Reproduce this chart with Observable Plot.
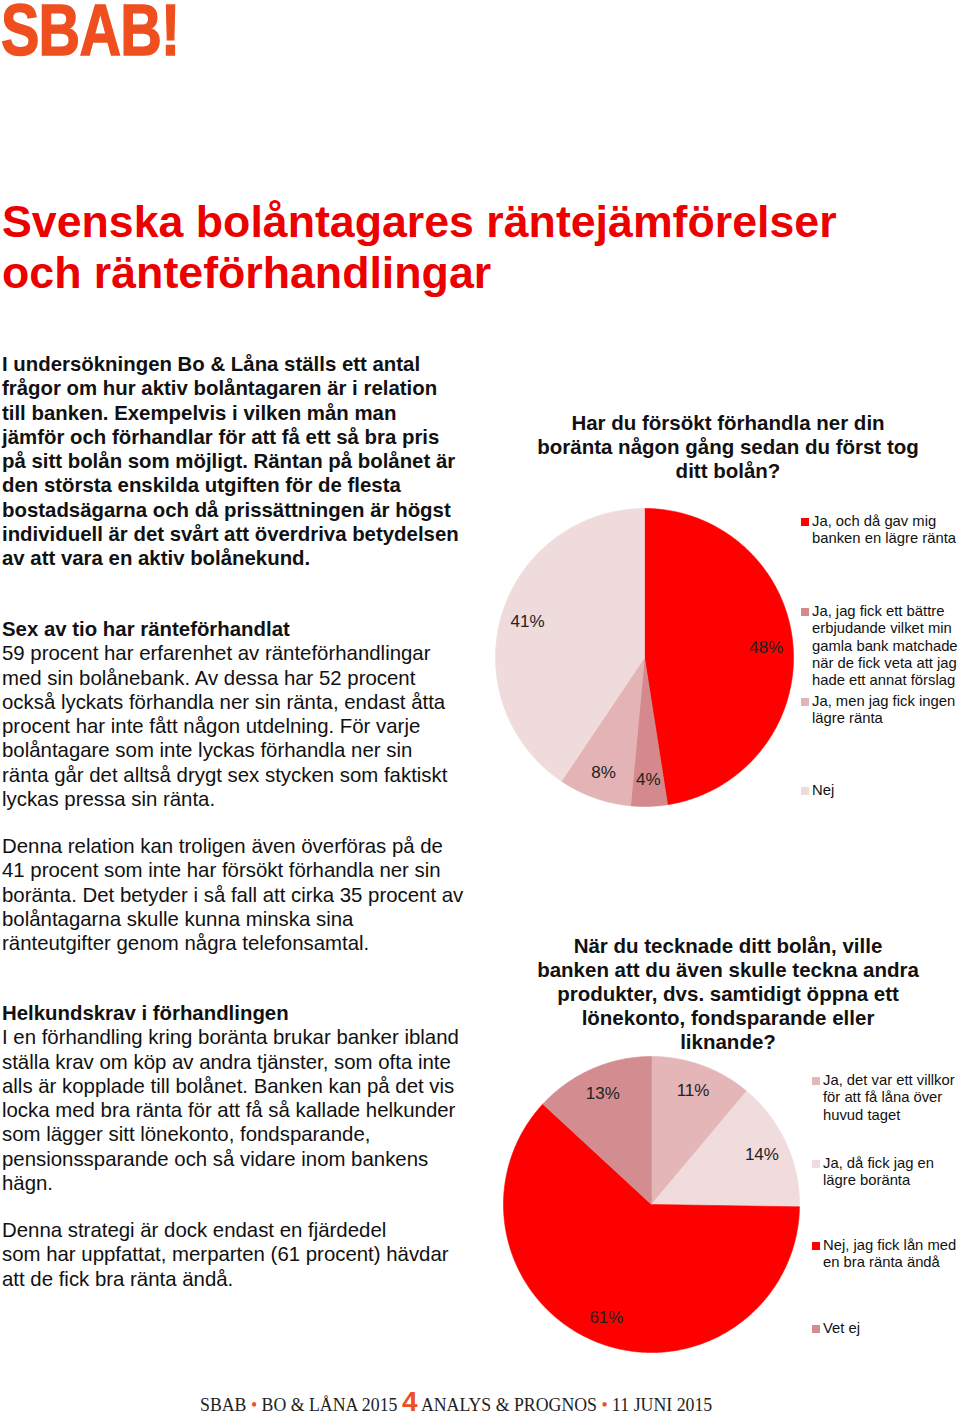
<!DOCTYPE html>
<html>
<head>
<meta charset="utf-8">
<script src="https://cdn.jsdelivr.net/npm/d3@7"></script>
<script src="https://cdn.jsdelivr.net/npm/@observablehq/plot@0.6"></script>
<style>
  html, body { margin: 0; padding: 0; background: #fff; }
  body { width: 960px; height: 1415px; position: relative; overflow: hidden;
         font-family: "Liberation Sans", Arial, Helvetica, sans-serif; color: #111; }
  .abs { position: absolute; }
  .logo { left: 1px; top: 0px; font-size: 72px; line-height: 60px; font-weight: bold; color: #EF4F1F;
          transform: scaleX(0.8); transform-origin: left top; letter-spacing: -1px;
          -webkit-text-stroke: 1.5px #EF4F1F; }
  .title { left: 2px; top: 196px; font-size: 44.7px; font-weight: bold; color: #EC0000; line-height: 51px; white-space: nowrap; }
  .body { left: 2px; font-size: 20.4px; line-height: 24.3px; white-space: nowrap; }
  .b { font-weight: bold; }
  .ctitle { font-size: 20.5px; line-height: 24px; font-weight: bold; text-align: center; width: 440px; white-space: nowrap; }
  .leg { font-size: 14.8px; line-height: 17.3px; white-space: nowrap; color: #111; }
  .leg .sw { position: absolute; left: -11px; top: 5px; width: 8px; height: 8px; }
  .footer { left: 200px; top: 1395px; font-family: "Liberation Serif", "DejaVu Serif", serif; font-size: 17.8px; line-height: 20px; white-space: nowrap; color: #222; }
  .footer .dot { color: #EF4F1F; }
  .footer .num { color: #EF4F1F; font-family: "Liberation Sans", Arial, sans-serif; font-weight: bold; font-size: 28px; line-height: 0; }
</style>
</head>
<body>
<script>
// ---------- DATA ----------
const pie1Title = ["Har du försökt förhandla ner din", "boränta någon gång sedan du först tog", "ditt bolån?"];
const pie1Labels = [
  ["Ja, och då gav mig", "banken en lägre ränta"],
  ["Ja, jag fick ett bättre", "erbjudande vilket min", "gamla bank matchade", "när de fick veta att jag", "hade ett annat förslag"],
  ["Ja, men jag fick ingen", "lägre ränta"],
  ["Nej"]
];
const pie1Values = [48, 4, 8, 41];
const pie1Colors = ["#FF0000", "#D4898D", "#E4B3B5", "#F0DBDC"];

const pie2Title = ["När du tecknade ditt bolån, ville", "banken att du även skulle teckna andra", "produkter, dvs. samtidigt öppna ett", "lönekonto, fondsparande eller", "liknande?"];
const pie2Labels = [
  ["Ja, det var ett villkor", "för att få låna över", "huvud taget"],
  ["Ja, då fick jag en", "lägre boränta"],
  ["Nej, jag fick lån med", "en bra ränta ändå"],
  ["Vet ej"]
];
const pie2Values = [11, 14, 61, 13];
const pie2Colors = ["#E5B6B8", "#F0DCDD", "#FF0000", "#D38D90"];

// ---------- TEXT ----------
const add = (html, cls, style) => {
  const d = document.createElement("div");
  d.className = "abs " + cls;
  Object.assign(d.style, style || {});
  d.innerHTML = html;
  document.body.appendChild(d);
  return d;
};
add("SBAB!", "logo");
add("Svenska bolåntagares räntejämförelser<br>och ränteförhandlingar", "title");
add(["I undersökningen Bo &amp; Låna ställs ett antal",
  "frågor om hur aktiv bolåntagaren är i relation",
  "till banken. Exempelvis i vilken mån man",
  "jämför och förhandlar för att få ett så bra pris",
  "på sitt bolån som möjligt. Räntan på bolånet är",
  "den största enskilda utgiften för de flesta",
  "bostadsägarna och då prissättningen är högst",
  "individuell är det svårt att överdriva betydelsen",
  "av att vara en aktiv bolånekund."].join("<br>"), "body b", {top: "352px"});
add(["<span class='b'>Sex av tio har ränteförhandlat</span>",
  "59 procent har erfarenhet av ränteförhandlingar",
  "med sin bolånebank. Av dessa har 52 procent",
  "också lyckats förhandla ner sin ränta, endast åtta",
  "procent har inte fått någon utdelning. För varje",
  "bolåntagare som inte lyckas förhandla ner sin",
  "ränta går det alltså drygt sex stycken som faktiskt",
  "lyckas pressa sin ränta."].join("<br>"), "body", {top: "617px"});
add(["Denna relation kan troligen även överföras på de",
  "41 procent som inte har försökt förhandla ner sin",
  "boränta. Det betyder i så fall att cirka 35 procent av",
  "bolåntagarna skulle kunna minska sina",
  "ränteutgifter genom några telefonsamtal."].join("<br>"), "body", {top: "834px"});
add(["<span class='b'>Helkundskrav i förhandlingen</span>",
  "I en förhandling kring boränta brukar banker ibland",
  "ställa krav om köp av andra tjänster, som ofta inte",
  "alls är kopplade till bolånet. Banken kan på det vis",
  "locka med bra ränta för att få så kallade helkunder",
  "som lägger sitt lönekonto, fondsparande,",
  "pensionssparande och så vidare inom bankens",
  "hägn."].join("<br>"), "body", {top: "1001px"});
add(["Denna strategi är dock endast en fjärdedel",
  "som har uppfattat, merparten (61 procent) hävdar",
  "att de fick bra ränta ändå."].join("<br>"), "body", {top: "1218px"});

add(pie1Title.join("<br>"), "ctitle", {left: "508px", top: "411px"});
add(pie2Title.join("<br>"), "ctitle", {left: "508px", top: "934px"});

add("SBAB <span class='dot'>•</span> BO &amp; LÅNA 2015 <span class='num'>4</span> ANALYS &amp; PROGNOS <span class='dot'>•</span> 11 JUNI 2015", "footer");

// ---------- LEGENDS ----------
function legend(labels, colors, left, tops) {
  labels.forEach((lines, i) => {
    const d = add(lines.join("<br>"), "leg", {left: left + "px", top: tops[i] + "px"});
    const s = document.createElement("div");
    s.className = "sw";
    s.style.background = colors[i];
    d.appendChild(s);
  });
}
legend(pie1Labels, pie1Colors, 812, [513, 603, 693, 782]);
legend(pie2Labels, pie2Colors, 823, [1072, 1155, 1237, 1320]);

// ---------- PIES ----------
function pieChart(values, colors, R, cx, cy) {
  const keys = values.map((v, i) => "s" + i);
  const arcs = d3.pie().sort(null).value(d => d)(values);
  const pts = arcs.flatMap((a, i) => {
    const n = Math.max(2, Math.ceil((a.endAngle - a.startAngle) / 0.01));
    const p = [{k: keys[i], x: 0, y: 0}];
    for (let j = 0; j <= n; j++) {
      const t = a.startAngle + (a.endAngle - a.startAngle) * j / n;
      p.push({k: keys[i], x: Math.sin(t), y: Math.cos(t)});
    }
    p.push({k: keys[i], x: 0, y: 0});
    return p;
  });
  const mid = a => (a.startAngle + a.endAngle) / 2;
  const lr = 0.82;
  const chart = Plot.plot({
    width: 2 * R, height: 2 * R, margin: 0,
    x: {domain: [-1, 1], axis: null},
    y: {domain: [-1, 1], axis: null},
    color: {domain: keys, range: colors},
    style: {overflow: "visible", background: "transparent"},
    marks: [
      Plot.line(pts, {x: "x", y: "y", z: "k", fill: "k", stroke: "k", strokeWidth: 0.6, curve: "linear"}),
      Plot.text(arcs, {
        x: a => lr * Math.sin(mid(a)), y: a => lr * Math.cos(mid(a)),
        text: a => a.data + "%", fontSize: 17, fill: "#222",
        fontFamily: "Liberation Sans, Arial, sans-serif"
      })
    ]
  });
  chart.style.position = "absolute";
  chart.style.left = (cx - R) + "px";
  chart.style.top = (cy - R) + "px";
  document.body.appendChild(chart);
}
pieChart(pie1Values, pie1Colors, 149, 644, 657);
pieChart(pie2Values, pie2Colors, 148, 651, 1204);
</script>
</body>
</html>
